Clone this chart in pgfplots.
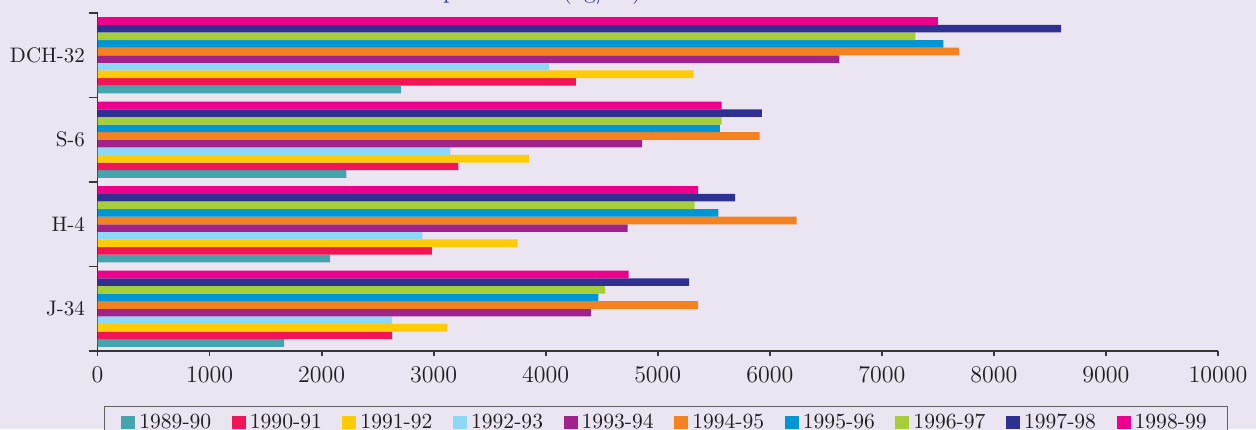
\documentclass[border=0pt]{standalone}
\usepackage{pgfplots}
\pgfplotsset{compat=1.18}
\usepackage{pgfplotstable}
\definecolor{bg}{RGB}{235,228,241}
\definecolor{txt}{RGB}{35,31,32}
\definecolor{navyt}{RGB}{46,49,146}
\definecolor{c1}{RGB}{69,165,174}
\definecolor{c2}{RGB}{239,21,86}
\definecolor{c3}{RGB}{255,203,5}
\definecolor{c4}{RGB}{141,216,246}
\definecolor{c5}{RGB}{160,35,140}
\definecolor{c6}{RGB}{245,130,32}
\definecolor{c7}{RGB}{0,150,214}
\definecolor{c8}{RGB}{166,206,57}
\definecolor{c9}{RGB}{46,49,146}
\definecolor{c10}{RGB}{236,0,140}
\pgfplotstableread{
cat yA yB yC yD yE yF yG yH yI yJ
0 1665 2630 3120 2630 4405 5360 4470 4530 5280 4740
1 2075 2985 3750 2900 4730 6240 5540 5330 5690 5360
2 2220 3220 3850 3150 4860 5910 5555 5570 5930 5570
3 2710 4270 5320 4030 6620 7690 7550 7300 8600 7500
}\data
\begin{document}
\begin{tikzpicture}
\fill[bg] (0,0) rectangle (628pt,214.5pt);
\node[anchor=base east, inner sep=0, text=navyt, font=\fontsize{12}{14}\selectfont] at (321pt,215pt) {Trend in seed cotton production (kg/ha)};
\begin{axis}[
  at={(48.75pt,39pt)}, anchor=south west,
  width=560.25pt, height=169pt, scale only axis,
  xbar, bar width=0.09,
  xmin=0, xmax=10000, ymin=-0.5, ymax=3.5,
  xtick={0,1000,...,10000}, scaled x ticks=false,
  /pgf/number format/1000 sep={},
  ytick={0,1,2,3}, yticklabels={J-34,H-4,S-6,DCH-32},
  minor ytick={-0.5,0.5,1.5,2.5,3.5},
  axis lines*=left,
  axis line style={txt!90, line width=0.9pt},
  tick align=outside,
  major tick length=2.5pt, minor tick length=4.5pt,
  tick style={txt!90, line width=0.9pt},
  every major y tick/.append style={draw=none},
  x tick label style={font=\fontsize{12}{14}\selectfont, text=txt, yshift=-2pt},
  y tick label style={font=\fontsize{10.5}{12}\selectfont, text=txt, xshift=-0.25pt},
  legend columns=10,
  legend cell align=left,
  legend image code/.code={\fill[#1] (0pt,-3.25pt) rectangle (7pt,3.25pt);},
  legend style={at={(0,0)}, anchor=north west, xshift=3.25pt, yshift=-27.5pt,
    draw=txt!70, line width=0.5pt, fill=bg, text=txt,
    font=\fontsize{10.8}{12}\selectfont, inner xsep=8.4pt, inner ysep=3pt,
    nodes={inner ysep=0.5pt},
    /tikz/every even column/.append style={column sep=8.3pt}},
]
\addplot[fill=c1, draw=none, bar shift=-0.405] table[x=yA, y=cat] {\data};
\addplot[fill=c2, draw=none, bar shift=-0.315] table[x=yB, y=cat] {\data};
\addplot[fill=c3, draw=none, bar shift=-0.225] table[x=yC, y=cat] {\data};
\addplot[fill=c4, draw=none, bar shift=-0.135] table[x=yD, y=cat] {\data};
\addplot[fill=c5, draw=none, bar shift=-0.045] table[x=yE, y=cat] {\data};
\addplot[fill=c6, draw=none, bar shift=0.045] table[x=yF, y=cat] {\data};
\addplot[fill=c7, draw=none, bar shift=0.135] table[x=yG, y=cat] {\data};
\addplot[fill=c8, draw=none, bar shift=0.225] table[x=yH, y=cat] {\data};
\addplot[fill=c9, draw=none, bar shift=0.315] table[x=yI, y=cat] {\data};
\addplot[fill=c10, draw=none, bar shift=0.405] table[x=yJ, y=cat] {\data};
\legend{1989-90,1990-91,1991-92,1992-93,1993-94,1994-95,1995-96,1996-97,1997-98,1998-99}
\end{axis}
\pgfresetboundingbox
\path[use as bounding box] (0,0) rectangle (628pt,214.5pt);
\end{tikzpicture}
\end{document}
